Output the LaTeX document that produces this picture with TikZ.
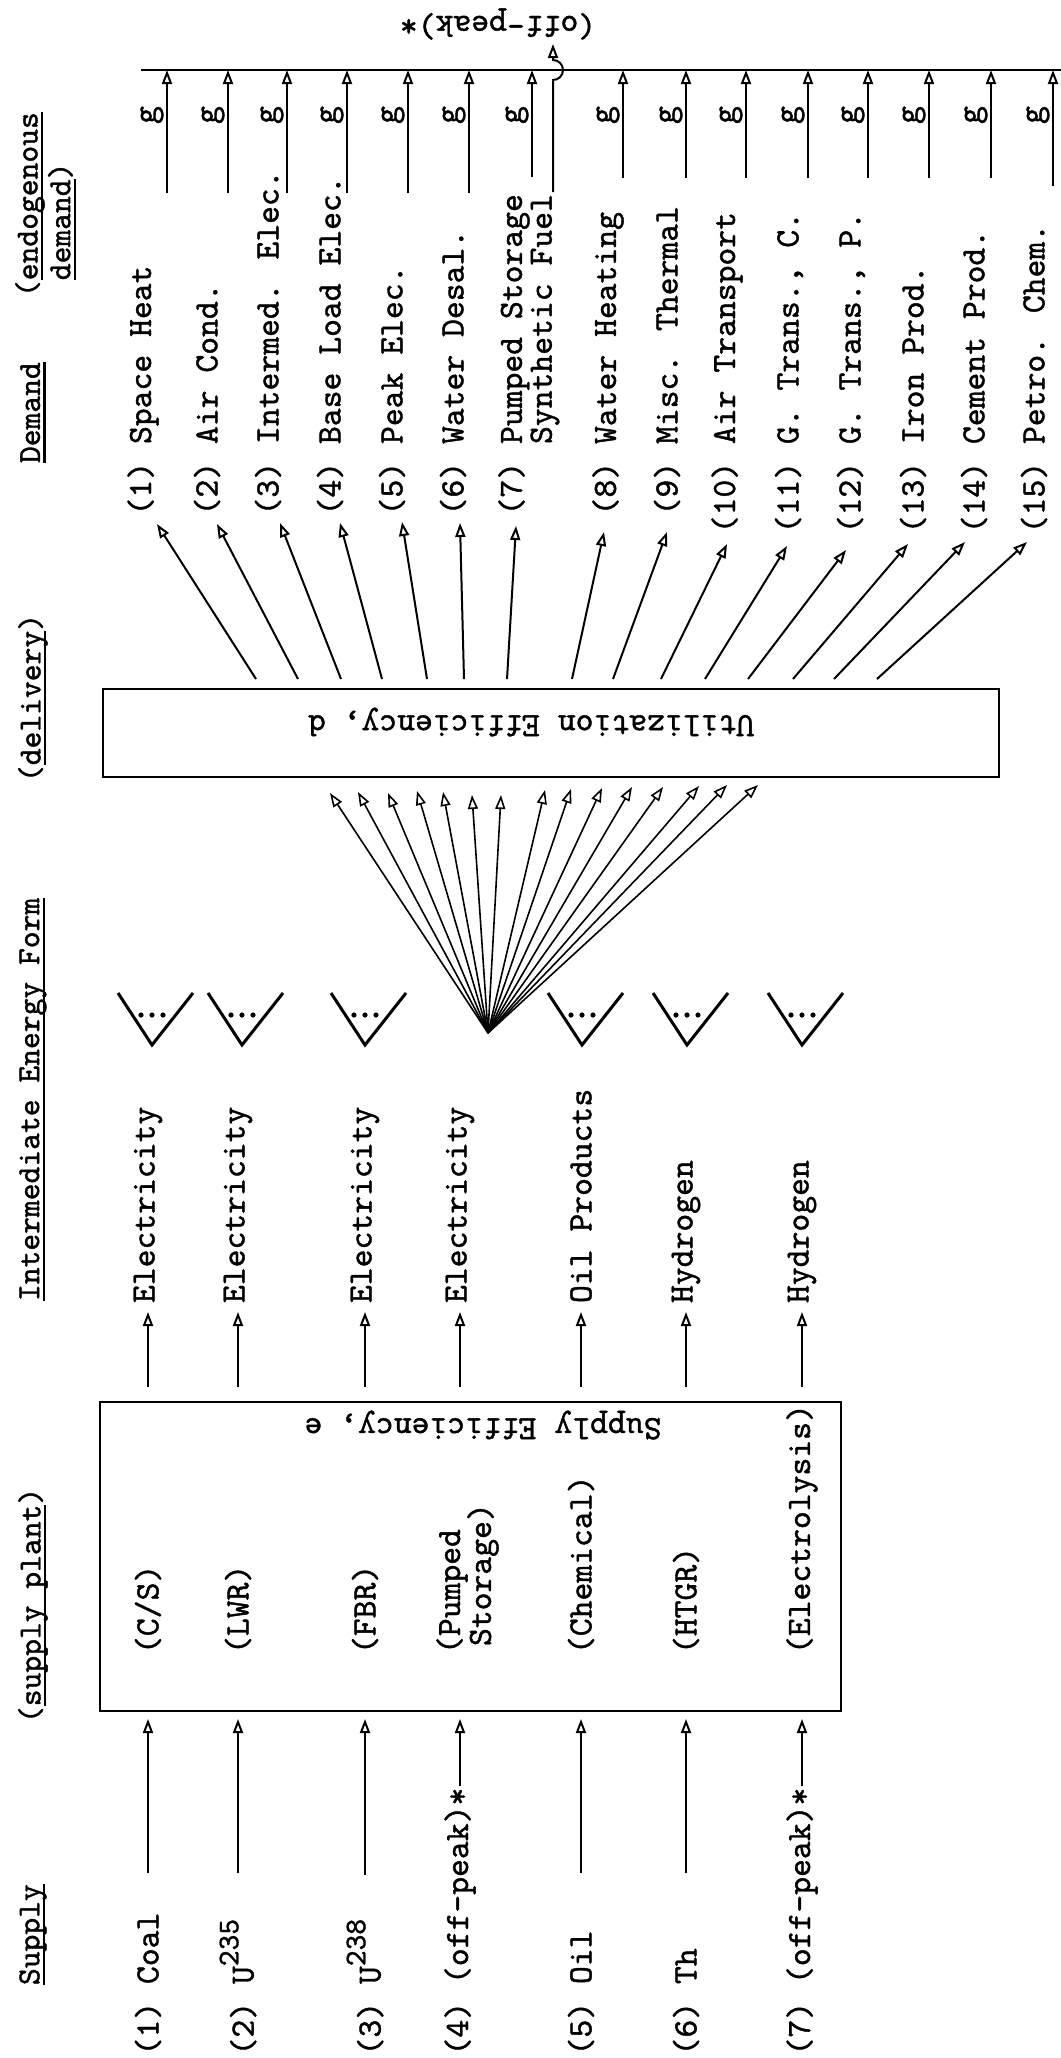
\documentclass[tikz,border=0pt]{standalone}
\usepackage{fontspec}
\newfontfamily\tw{lmmono10-regular}[Extension=.otf,FakeBold=1.2]
\usetikzlibrary{arrows.meta}
\newcommand\myul[1]{\setbox0=\hbox{#1}\rlap{\rule[-0.18em]{\wd0}{0.07em}}\box0}
\begin{document}
\begin{tikzpicture}[x=0.5pt,y=-0.5pt,line width=1pt,
 tip/.style={-{Triangle[open,length=7pt,width=5pt]}},
 itm/.style={rotate=90,anchor=west,inner sep=0pt,font=\tw\fontsize{17}{20}\selectfont},
 hdr/.style={rotate=90,anchor=west,inner sep=0pt,font=\tw\fontsize{16}{19}\selectfont},
 flip/.style={rotate=180,inner sep=0pt,font=\tw\fontsize{17}{20}\selectfont},
 vee/.style={line width=1.5pt,line join=miter},
 box/.style={draw,line width=1.4pt,inner sep=0pt}]
\fill[white] (0,0) rectangle (1061,2058);
\useasboundingbox (0,0) rectangle (1061,2058);

% ---------- headers ----------
\node[hdr] (hSupply) at (33,1986) {\myul{Supply}};
\node[hdr] (hPlant) at (33,1724) {(\myul{supply plant})};
\node[hdr] (hInter) at (33,1302) {\myul{Intermediate Energy Form}};
\node[hdr] (hDeliv) at (33,783) {(\myul{delivery})};
\node[hdr] (hDem) at (33,464) {\myul{Demand}};
\node[hdr] (hEndo) at (30,298) {(\myul{endogenous}};
\node[hdr] (hEndoB) at (62,298) {\phantom{(}\myul{demand})};

% ---------- supply items ----------
\node[itm] (s1) at (148,1985) {\llap{(1)\ }Coal};
\node[itm] (s2) at (238,1985) {\llap{(2)\ }U\raisebox{0.45em}{\fontsize{15}{15}\selectfont 235}};
\node[itm] (s3) at (365,1985) {\llap{(3)\ }U\raisebox{0.45em}{\fontsize{15}{15}\selectfont 238}};
\node[itm] (s4) at (460,1985) {\llap{(4)\ }(off-peak)*};
\node[itm] (s5) at (581,1985) {\llap{(5)\ }Oil};
\node[itm] (s6) at (686,1985) {\llap{(6)\ }Th};
\node[itm] (s7) at (802,1985) {\llap{(7)\ }(off-peak)*};

% supply lines into the supply box
\foreach \n/\x/\b in {1/148/1873,2/238/1873,3/365/1875,4/460/1786,5/581/1873,6/686/1873,7/802/1786}{
  \coordinate (sb\n) at (\x,\b);
  \coordinate (st\n) at (\x,1719);
  \draw[tip] (sb\n) -- (st\n);
}

% ---------- supply box ----------
\node[box,minimum width=370.5pt,minimum height=154.5pt] (sbox) at (470.5,1556.5) {};
\node[flip] (sEff) at (483,1425) {Supply Efficiency, e};
\node[itm] (p1) at (148,1655) {(C/S)};
\node[itm] (p2) at (238,1655) {(LWR)};
\node[itm] (p3) at (365,1655) {(FBR)};
\node[itm] (p4) at (452,1655) {(Pumped};
\node[itm] (p4b) at (483,1647) {Storage)};
\node[itm] (p5) at (581,1655) {(Chemical)};
\node[itm] (p6) at (686,1655) {(HTGR)};
\node[itm] (p7) at (802,1655) {(Electrolysis)};

% ---------- intermediate energy forms ----------
\foreach \n/\x/\t in {1/148/Electricity,2/238/Electricity,3/365/Electricity,4/460/Electricity,5/581/Oil Products,6/686/Hydrogen,7/802/Hydrogen}{
  \coordinate (eb\n) at (\x,1387);
  \coordinate (et\n) at (\x,1312);
  \draw[tip] (eb\n) -- (et\n);
  \node[itm] (el\n) at (\x,1304) {\t};
}

% V shapes
\foreach \n/\x in {1/152,2/242,3/365,5/582,6/687,7/802}{
  \coordinate (va\n) at (\x,1045);
  \draw[vee] (\x-34,993) -- (va\n) -- (\x+41,993);
  \fill (\x-11,1015) circle[radius=1.3pt];
  \fill (\x,1015) circle[radius=1.3pt];
  \fill (\x+11,1015) circle[radius=1.3pt];
}

% fan from the fourth form into the utilization box
\coordinate (fap) at (488,1033);
\foreach \x/\y [count=\i] in {330/793,358/792,388/793,417/791,443/792,472/795,501/795,545/790,571/789,602/788,632/787,663/787,699/786,727/785,758/785}{
  \coordinate (ft\i) at (\x,\y);
  \draw[tip,line width=0.8pt] (fap) -- (ft\i);
}

% ---------- utilization box ----------
\node[box,minimum width=448pt,minimum height=44pt] (ubox) at (551,733) {};
\node[flip] (uEff) at (531,722) {Utilization Efficiency, d};

% demand arrows
\foreach \n/\bx/\tx/\ty in {1/256/157/524,2/298/217/524,3/341/280/523,4/382/340/523,5/427/402/522,6/464/460/523,7/507/516/526,8/572/604/532,9/613/667/532,10/661/727/544,11/705/787/546,12/748/846/550,13/793/908/544,14/834/965/542,15/877/1027/542}{
  \coordinate (db\n) at (\bx,679);
  \coordinate (dt\n) at (\tx,\ty);
  \draw[tip] (db\n) -- (dt\n);
}

% ---------- demand labels ----------
\foreach \n/\x/\t in {1/143/Space Heat,2/207/Air Cond.,3/268/Intermed. Elec.,4/330/Base Load Elec.,5/392/Peak Elec.,6/453/Water Desal.,8/608/Water Heating,9/667/Misc. Thermal,10/727/Air Transport,11/789/{G. Trans., C.},12/851/{G. Trans., P.},13/913/Iron Prod.,14/974/Cement Prod.,15/1034/Petro. Chem.}{
  \node[itm] (dl\n) at (\x,445) {\llap{(\n)\ }\t};
}
\node[itm] (dl7) at (514,445) {\llap{(7)\ }Pumped Storage};
\node[itm] (dl7b) at (545,445) {Synthetic Fuel};

% g lines into the bus
\foreach \n/\x/\b in {1/167/193,2/228/193,3/287/193,4/347/193,5/408/193,6/469/193,7/532/177,8/623/178,9/686/178,10/746/178,11/808/178,12/868/178,13/929/178,14/991/178,15/1053/186}{
  \coordinate (gb\n) at (\x,\b);
  \coordinate (gt\n) at (\x,70);
  \draw[tip] (gb\n) -- (gt\n);
  \node[itm,anchor=center] (g\n) at (\x-15,115) {g};
}

% bus
\coordinate (busL) at (141,70);
\coordinate (busR) at (1061,70);
\draw (busL) -- (busR);

% synthetic fuel line hopping the bus to (off-peak)*
\coordinate (sfb) at (553,192);
\coordinate (sfj) at (553,80);
\coordinate (opk) at (553,44);
\draw[tip] (sfb) -- (sfj) arc[start angle=90,end angle=-90,radius=10] -- (opk);
\node[flip] (offpk) at (498,24) {(off-peak)*};
\end{tikzpicture}
\end{document}
